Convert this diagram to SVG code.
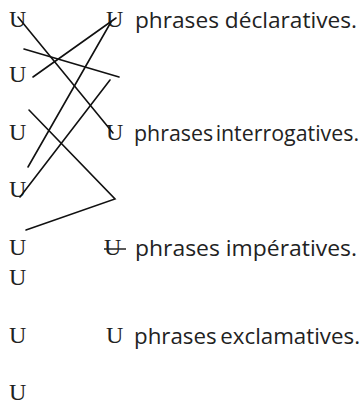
<svg xmlns="http://www.w3.org/2000/svg" width="364" height="409" viewBox="0 0 364 409">
<style>
.u{font-family:"Liberation Serif","Times New Roman",serif;font-size:24px;fill:#222}
.s{font-family:"Open Sans","Liberation Sans",sans-serif;font-size:21px;fill:#222}
.c{stroke:#111;stroke-width:1.6;fill:none;stroke-linecap:round}
</style>
<rect width="364" height="409" fill="#fff"/>
<g id="left">
<text class="u" x="9" y="27">U</text>
<text class="u" x="9" y="82">U</text>
<text class="u" x="9" y="140">U</text>
<text class="u" x="9" y="197">U</text>
<text class="u" x="9" y="255">U</text>
<text class="u" x="9" y="285">U</text>
<text class="u" x="9" y="343">U</text>
<text class="u" x="9" y="400">U</text>
</g>
<g id="declaratives">
<text class="u" x="106" y="27">U</text>
<text class="s" x="135" y="28" textLength="222" lengthAdjust="spacingAndGlyphs">phrases déclaratives.</text>
</g>
<g id="interrogatives">
<text class="u" x="106" y="140">U</text>
<text class="s" x="134" y="141" textLength="225" lengthAdjust="spacingAndGlyphs" word-spacing="-3">phrases interrogatives.</text>
</g>
<g id="imperatives">
<text class="u" x="104" y="255">U</text>
<line x1="104" y1="249" x2="126" y2="249" stroke="#222" stroke-width="1.5"/>
<text class="s" x="135" y="256" textLength="222" lengthAdjust="spacingAndGlyphs">phrases impératives.</text>
</g>
<g id="exclamatives">
<text class="u" x="106" y="343">U</text>
<text class="s" x="134" y="344" textLength="226" lengthAdjust="spacingAndGlyphs" word-spacing="-2">phrases exclamatives.</text>
</g>
<g id="connectors">
<line class="c" x1="18" y1="17" x2="113" y2="133"/>
<line class="c" x1="24" y1="49" x2="119" y2="77"/>
<line class="c" x1="33" y1="77" x2="116" y2="18"/>
<line class="c" x1="28" y1="167" x2="111" y2="22"/>
<line class="c" x1="20" y1="197" x2="110" y2="80"/>
<polyline class="c" points="29,110 115,199 26,230"/>
</g>
</svg>
